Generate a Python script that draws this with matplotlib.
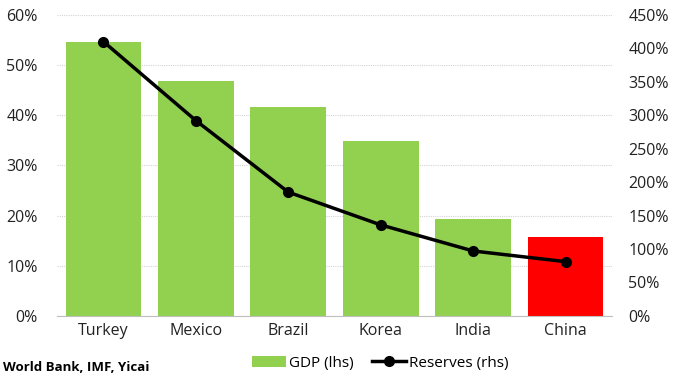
import matplotlib
matplotlib.use("Agg")
import matplotlib.pyplot as plt
from matplotlib.ticker import FuncFormatter

countries = ["Turkey", "Mexico", "Brazil", "Korea", "India", "China"]
gdp = [54.6, 46.8, 41.7, 34.9, 19.3, 15.7]
reserves = [410, 292, 185, 136, 97, 81]
bar_colors = ["#92d050", "#92d050", "#92d050", "#92d050", "#92d050", "#ff0000"]

plt.rcParams['font.family'] = ['Open Sans', 'DejaVu Sans']
fig = plt.figure(figsize=(6.73, 3.81), dpi=100)
ax = fig.add_axes([0.085, 0.171, 0.824, 0.79])
x = list(range(len(countries)))
bars = ax.bar(x, gdp, width=0.82, color=bar_colors, zorder=2, label="GDP (lhs)")
ax.set_ylim(0, 60)
ax.set_xlim(-0.5, 5.5)
ax.set_yticks(range(0, 61, 10))
ax.yaxis.set_major_formatter(FuncFormatter(lambda v, p: f"{int(v)}%"))
ax.grid(axis='y', color='#d4d4d4', linestyle=(0, (1, 1)), linewidth=0.8, zorder=0)
ax.set_xticks(x)
ax.set_xticklabels(countries)
for s in ['top', 'right', 'left']:
    ax.spines[s].set_visible(False)
ax.spines['bottom'].set_color('#bfbfbf')
ax.tick_params(axis='both', length=0, labelsize=11.5, colors='#222222')
ax.tick_params(axis='y', pad=14)
ax.tick_params(axis='x', pad=5)

ax2 = ax.twinx()
line, = ax2.plot(x, reserves, color='black', linewidth=2.5, marker='o', markersize=7, zorder=3, label="Reserves (rhs)")
ax2.set_ylim(0, 450)
ax2.set_yticks(range(0, 451, 50))
ax2.yaxis.set_major_formatter(FuncFormatter(lambda v, p: f"{int(v)}%"))
for s in ['top', 'right', 'left', 'bottom']:
    ax2.spines[s].set_visible(False)
ax2.tick_params(axis='y', length=0, labelsize=11.5, colors='#222222', pad=12)

fig.legend([bars, line], ["GDP (lhs)", "Reserves (rhs)"], loc='center', bbox_to_anchor=(0.565, 0.047),
           ncol=2, frameon=False, fontsize=11, handlelength=2.2, columnspacing=1.2, handletextpad=0.2)
fig.text(0.005, 0.035, "World Bank, IMF, Yicai", fontsize=9.5, fontweight='bold', ha='left', va='center')
fig.savefig("out.png", dpi=100)
